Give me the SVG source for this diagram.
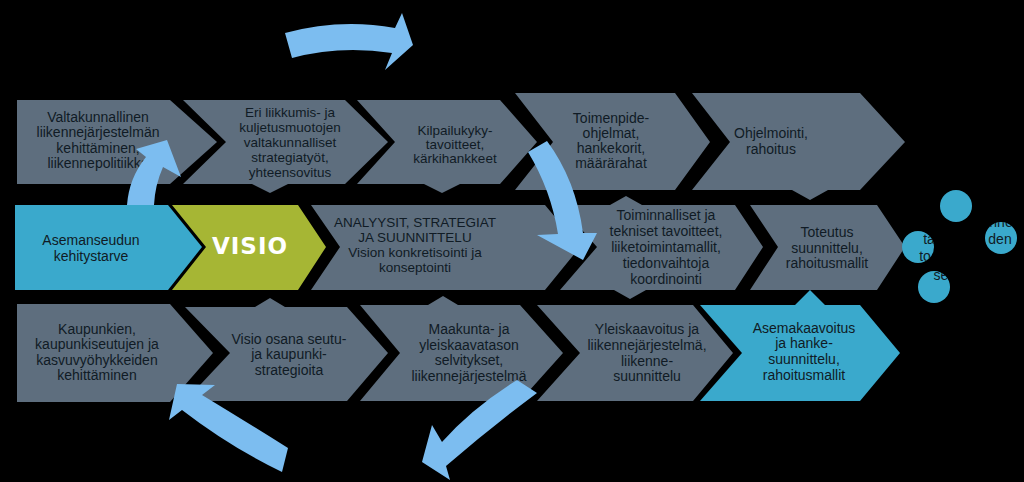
<svg xmlns="http://www.w3.org/2000/svg" width="1024" height="482" viewBox="0 0 1024 482">
<style>
.g{fill:#5e6e7e}
.b{fill:#3aa9cc}
.v{fill:#a6b634}
.t{font-family:"Liberation Sans","DejaVu Sans",sans-serif;font-size:14px;fill:#101b25;text-anchor:middle}
.s{font-size:13.5px}
.vi{font-family:"DejaVu Sans","Liberation Sans",sans-serif;font-weight:bold;font-size:23px;fill:#ffffff;text-anchor:middle;letter-spacing:1px}
.a{fill:#7cbdf0}
</style>
<defs>
<clipPath id="cc">
<circle cx="956" cy="206" r="16"/>
<circle cx="918" cy="247" r="16"/>
<circle cx="934" cy="287" r="16"/>
<circle cx="1001" cy="238" r="16"/>
</clipPath>
</defs>
<rect width="1024" height="482" fill="#000"/>

<g id="n-valtakunnallinen">
<polygon class="g" points="17,100 170,100 217,142 170,184 17,184"/>
<text class="t" x="98" y="122">Valtakunnallinen</text>
<text class="t" x="98" y="137">liikennejärjestelmän</text>
<text class="t" x="98" y="153">kehittäminen,</text>
<text class="t" x="98" y="168">liikennepolitiikka</text>
</g>
<g id="n-eri">
<polygon class="g" points="183,100 345,100 388,142 345,184 288,184 270,193 252,184 183,184 226,142"/>
<text class="t s" x="290" y="117">Eri liikkumis- ja</text>
<text class="t s" x="290" y="132">kuljetusmuotojen</text>
<text class="t s" x="290" y="147">valtakunnalliset</text>
<text class="t s" x="290" y="162">strategiatyöt,</text>
<text class="t s" x="290" y="177">yhteensovitus</text>
</g>
<g id="n-kilpailukyky">
<polygon class="g" points="357,100 500,100 537,142 500,184 460,184 442,193 424,184 357,184 395,142"/>
<text class="t s" x="455" y="135">Kilpailukyky-</text>
<text class="t s" x="455" y="149">tavoitteet,</text>
<text class="t s" x="455" y="163">kärkihankkeet</text>
</g>
<g id="n-toimenpide">
<polygon class="g" points="515,93 675,93 710,142 675,190 515,190 553,142"/>
<text class="t" x="611" y="123">Toimenpide-</text>
<text class="t" x="611" y="138">ohjelmat,</text>
<text class="t" x="611" y="153">hankekorit,</text>
<text class="t" x="611" y="168">määrärahat</text>
</g>
<g id="n-ohjelmointi">
<polygon class="g" points="692,93 860,93 905,142 860,190 828,190 810,200 792,190 692,190 730,142"/>
<text class="t" x="771" y="138">Ohjelmointi,</text>
<text class="t" x="771" y="154">rahoitus</text>
</g>

<g id="n-asemanseudun">
<polygon class="b" points="15,205 168,205 202,247 168,290 15,290"/>
<text class="t" x="91" y="245">Asemanseudun</text>
<text class="t" x="91" y="261">kehitystarve</text>
</g>
<g id="n-visio">
<polygon class="v" points="172,205 298,205 326,247 298,290 172,290 206,247"/>
<text class="vi" x="250" y="254">VISIO</text>
</g>
<g id="n-analyysit">
<polygon class="g" points="311,205 545,205 580,247 545,290 311,290 340,247"/>
<text class="t s" x="415" y="227">ANALYYSIT, STRATEGIAT</text>
<text class="t s" x="415" y="242">JA SUUNNITTELU</text>
<text class="t s" x="415" y="257">Vision konkretisointi ja</text>
<text class="t s" x="415" y="272">konseptointi</text>
</g>
<g id="n-toiminnalliset">
<polygon class="g" points="560,205 610,205 626,196 642,205 735,205 763,247 735,290 646,290 630,299 614,290 560,290 597,247"/>
<text class="t" x="666" y="220">Toiminnalliset ja</text>
<text class="t" x="666" y="236">tekniset tavoitteet,</text>
<text class="t" x="666" y="252">liiketoimintamallit,</text>
<text class="t" x="666" y="268">tiedonvaihtoja</text>
<text class="t" x="666" y="284">koordinointi</text>
</g>
<g id="n-toteutus">
<polygon class="g" points="750,205 877,205 905,247 877,290 750,290 778,247"/>
<text class="t" x="827" y="237">Toteutus</text>
<text class="t" x="827" y="253">suunnittelu,</text>
<text class="t" x="827" y="268">rahoitusmallit</text>
</g>

<g id="n-circles">
<circle class="b" cx="956" cy="206" r="16"/>
<circle class="b" cx="918" cy="247" r="16"/>
<circle class="b" cx="934" cy="287" r="16"/>
<circle class="b" cx="1001" cy="238" r="16"/>
<g clip-path="url(#cc)">
<text class="t" x="1001" y="227">nne</text>
<text class="t" x="929" y="244">ta</text>
<text class="t" x="1000" y="244">den</text>
<text class="t" x="925" y="261">to</text>
<text class="t" x="941" y="280">se</text>
</g>
</g>

<g id="n-kaupunkien">
<polygon class="g" points="17,304 170,304 213,353 170,402 17,402"/>
<text class="t" x="97" y="334">Kaupunkien,</text>
<text class="t" x="97" y="349">kaupunkiseutujen ja</text>
<text class="t" x="97" y="365">kasvuvyöhykkeiden</text>
<text class="t" x="97" y="380">kehittäminen</text>
</g>
<g id="n-visio-osana">
<polygon class="g" points="185,307 255,307 270,298 285,307 347,307 388,353 347,401 185,401 230,353"/>
<text class="t" x="289" y="344">Visio osana seutu-</text>
<text class="t" x="289" y="359">ja kaupunki-</text>
<text class="t" x="289" y="375">strategioita</text>
</g>
<g id="n-maakunta">
<polygon class="g" points="360,305 428,305 443,296 458,305 520,305 563,353 520,401 360,401 400,353"/>
<text class="t" x="469" y="334">Maakunta- ja</text>
<text class="t" x="469" y="350">yleiskaavatason</text>
<text class="t" x="469" y="365">selvitykset,</text>
<text class="t" x="469" y="381">liikennejärjestelmä</text>
</g>
<g id="n-yleiskaavoitus">
<polygon class="g" points="537,305 693,305 733,353 693,401 537,401 580,353"/>
<text class="t" x="647" y="334">Yleiskaavoitus ja</text>
<text class="t" x="647" y="350">liikennejärjestelmä,</text>
<text class="t" x="647" y="366">liikenne-</text>
<text class="t" x="647" y="381">suunnittelu</text>
</g>
<g id="n-asemakaavoitus">
<polygon class="b" points="700,305 795,305 810,290 825,305 860,305 900,353 860,401 700,401 742,353"/>
<text class="t" x="804" y="333">Asemakaavoitus</text>
<text class="t" x="804" y="348">ja hanke-</text>
<text class="t" x="804" y="364">suunnittelu,</text>
<text class="t" x="804" y="380">rahoitusmallit</text>
</g>

<g id="connectors">
<path class="a" d="M285,33 Q340,18 395,28 L402,13 L413,45 L385,70 L392,53 Q340,45 292,58 Z"/>
<path class="a" d="M528,152 Q551,190 558,234 L537,235 L583,260 L597,233 L583,233 Q576,180 547,141 Z"/>
<path class="a" d="M127,205 Q129,178 146,157 L136,149 L167,140 L181,177 L163,167 Q155,185 154,205 Z"/>
<path class="a" d="M288,448 Q240,418 202,395 L215,385 L177,384 L169,420 L182,410 Q230,447 282,472 Z"/>
<path class="a" d="M517,380 Q472,408 442,442 L432,425 L422,462 L450,480 L446,466 Q490,428 537,393 Z"/>
</g>
</svg>
